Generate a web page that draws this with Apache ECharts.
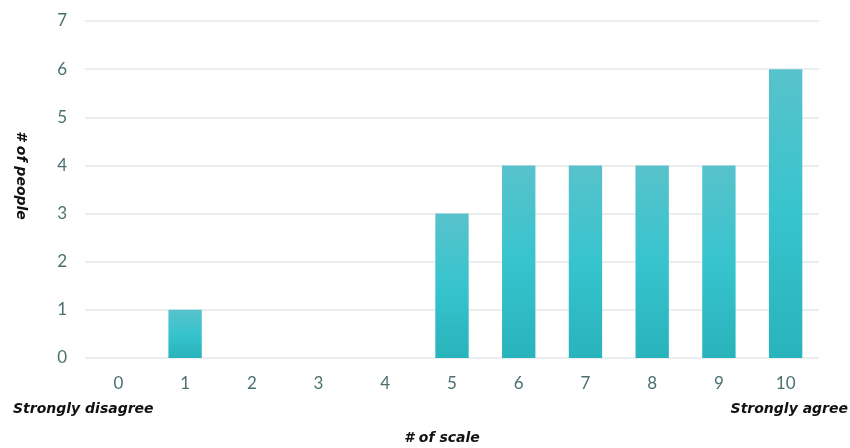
<!DOCTYPE html>
<html>
<head>
<meta charset="utf-8">
<script src="https://cdn.jsdelivr.net/npm/echarts@6/dist/echarts.min.js"></script>
<style>
  html, body { margin: 0; padding: 0; background: #ffffff; }
  #chart { width: 850px; height: 448px; }
</style>
</head>
<body>
<div id="chart"></div>
<script>
// Survey responses: how many people picked each point on the 0-10 scale
const scalePoints = ['0', '1', '2', '3', '4', '5', '6', '7', '8', '9', '10'];
const peopleCounts = [0, 1, 0, 0, 0, 3, 4, 4, 4, 4, 6];
const yTicks = [0, 1, 2, 3, 4, 5, 6, 7];

const chart = echarts.init(document.getElementById('chart'), null, { renderer: 'canvas' });

const labelColor = '#4c7070';
const tickFont = 'Lato, "Open Sans", sans-serif';
const nameFont = '"DejaVu Sans", Verdana, sans-serif';
const nameStyle = { color: '#111111', fontSize: 14, fontWeight: 'bold', fontStyle: 'italic', fontFamily: nameFont };

chart.setOption({
  animation: false,
  backgroundColor: '#ffffff',
  grid: { left: 85, right: 31, top: 21, bottom: 90, containLabel: false, outerBoundsMode: 'none' },
  xAxis: {
    type: 'category',
    data: scalePoints,
    name: '# of scale',
    nameLocation: 'middle',
    nameGap: 73,
    nameTextStyle: Object.assign({}, nameStyle, { padding: [0, 20, 0, 0] }),
    axisLine: { show: false },
    axisTick: { show: false },
    axisLabel: { color: labelColor, fontSize: 17, margin: 17, fontFamily: tickFont }
  },
  yAxis: {
    type: 'value',
    min: yTicks[0],
    max: yTicks[yTicks.length - 1],
    interval: 1,
    name: '# of people',
    nameLocation: 'middle',
    nameGap: 57,
    nameRotate: -90,
    nameTextStyle: Object.assign({}, nameStyle, { padding: [0, 28, 0, 0] }),
    axisLine: { show: false },
    axisTick: { show: false },
    axisLabel: { color: labelColor, fontSize: 17, margin: 18, fontFamily: tickFont },
    splitLine: { lineStyle: { color: '#e3e8e8', width: 1.5 } }
  },
  series: [{
    type: 'bar',
    data: peopleCounts,
    barWidth: '50%',
    itemStyle: {
      color: new echarts.graphic.LinearGradient(0, 0, 0, 1, [
        { offset: 0, color: '#58c2cb' },
        { offset: 0.5, color: '#37c4ce' },
        { offset: 1, color: '#29b3bb' }
      ])
    }
  }],
  graphic: [
    {
      type: 'text', left: 13, top: 402,
      style: { text: 'Strongly disagree', fill: '#111111', font: 'italic bold 14px ' + nameFont }
    },
    {
      type: 'text', right: 2, top: 402,
      style: { text: 'Strongly agree', fill: '#111111', font: 'italic bold 14px ' + nameFont }
    }
  ]
});
</script>
</body>
</html>
